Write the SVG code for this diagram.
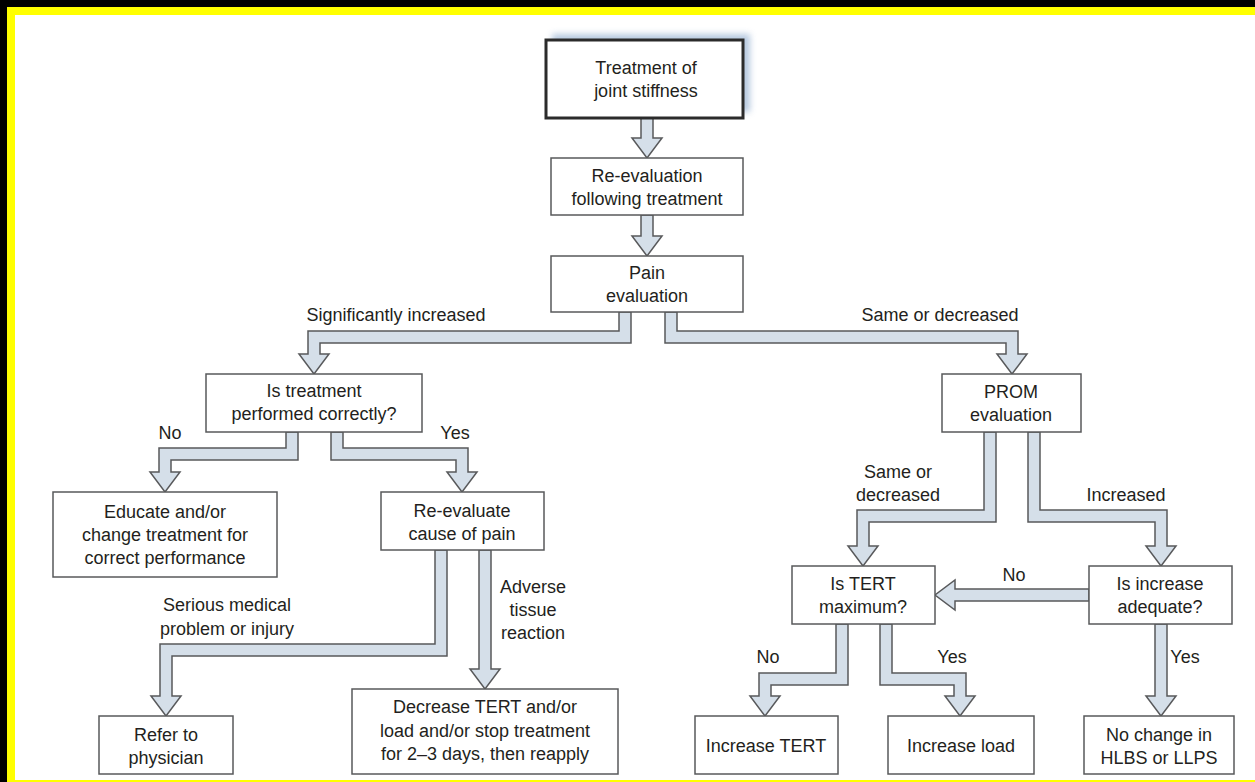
<svg xmlns="http://www.w3.org/2000/svg" width="1255" height="782" viewBox="0 0 1255 782">
<defs>
<filter id="blur" x="-20%" y="-20%" width="140%" height="140%"><feGaussianBlur stdDeviation="3"/></filter>
<style>
.box{fill:#ffffff;stroke:#58595b;stroke-width:1.5}
.main{fill:#ffffff;stroke:#2b2b2b;stroke-width:3}
.arr{fill:#d5dfe9;stroke:#58595b;stroke-width:1.5;stroke-linejoin:miter}
text{font-family:"Liberation Sans",Arial,sans-serif;font-size:18px;fill:#231f20;text-anchor:middle}
</style>
</defs>
<rect x="0" y="0" width="1255" height="782" fill="#000000"/>
<rect x="7" y="7" width="1248" height="775" fill="#ffff00"/>
<rect x="15" y="15" width="1240" height="765" fill="#ffffff"/>

<g id="connectors">
<polygon class="arr" points="641,118 653,118 653,138 662,138 647,158 632,138 641,138"/>
<polygon class="arr" points="641,215 653,215 653,236 662,236 647,256 632,236 641,236"/>
<polygon class="arr" points="631,312 631,343 320,343 320,354 329,354 314,374 299,354 308,354 308,331 619,331 619,312"/>
<polygon class="arr" points="665,312 665,343 1006,343 1006,354 997,354 1012,374 1027,354 1018,354 1018,331 677,331 677,312"/>
<polygon class="arr" points="298,432 298,460 171,460 171,472 180,472 165,492 150,472 159,472 159,448 286,448 286,432"/>
<polygon class="arr" points="331,432 331,460 456,460 456,472 447,472 462,492 477,472 468,472 468,448 343,448 343,432"/>
<polygon class="arr" points="447,550 447,656 172,656 172,696 181,696 166,716 151,696 160,696 160,644 435,644 435,550"/>
<polygon class="arr" points="479,550 491,550 491,669 500,669 485,689 470,669 479,669"/>
<polygon class="arr" points="996,432 996,522 869,522 869,546 878,546 863,566 848,546 857,546 857,510 984,510 984,432"/>
<polygon class="arr" points="1028,432 1028,522 1155,522 1155,546 1146,546 1161,566 1176,546 1167,546 1167,510 1040,510 1040,432"/>
<polygon class="arr" points="1089,589 955,589 955,580 935,595 955,610 955,601 1089,601"/>
<polygon class="arr" points="848,624 848,685 771,685 771,696 780,696 765,716 750,696 759,696 759,673 836,673 836,624"/>
<polygon class="arr" points="880,624 880,685 954,685 954,696 945,696 960,716 975,696 966,696 966,673 892,673 892,624"/>
<polygon class="arr" points="1155,624 1167,624 1167,696 1176,696 1161,716 1146,696 1155,696"/>
<text x="396" y="321">Significantly increased</text>
<text x="940" y="321">Same or decreased</text>
<text x="170" y="439">No</text>
<text x="455" y="439">Yes</text>
<text x="227" y="611">Serious medical</text>
<text x="227" y="635">problem or injury</text>
<text x="533" y="593">Adverse</text>
<text x="533" y="616">tissue</text>
<text x="533" y="639">reaction</text>
<text x="898" y="478">Same or</text>
<text x="898" y="501">decreased</text>
<text x="1126" y="501">Increased</text>
<text x="1014" y="581">No</text>
<text x="768" y="663">No</text>
<text x="952" y="663">Yes</text>
<text x="1185" y="663">Yes</text>
</g>

<g id="n-treatment">
<rect x="552" y="34" width="198" height="78" fill="#9fb8d6" opacity="0.75" filter="url(#blur)"/>
<rect class="main" x="546" y="40" width="197" height="78"/>
<text x="646" y="74">Treatment of</text>
<text x="646" y="97">joint stiffness</text>
</g>
<g id="n-reeval">
<rect class="box" x="551" y="158" width="192" height="57"/>
<text x="647" y="182">Re-evaluation</text>
<text x="647" y="205">following treatment</text>
</g>
<g id="n-pain">
<rect class="box" x="551" y="256" width="192" height="56"/>
<text x="647" y="279">Pain</text>
<text x="647" y="302">evaluation</text>
</g>
<g id="n-correct">
<rect class="box" x="206" y="374" width="216" height="58"/>
<text x="314" y="397">Is treatment</text>
<text x="314" y="420">performed correctly?</text>
</g>
<g id="n-educate">
<rect class="box" x="53" y="492" width="224" height="85"/>
<text x="165" y="518">Educate and/or</text>
<text x="165" y="541">change treatment for</text>
<text x="165" y="564">correct performance</text>
</g>
<g id="n-cause">
<rect class="box" x="381" y="492" width="163" height="58"/>
<text x="462" y="517">Re-evaluate</text>
<text x="462" y="540">cause of pain</text>
</g>
<g id="n-refer">
<rect class="box" x="99" y="716" width="134" height="58"/>
<text x="166" y="741">Refer to</text>
<text x="166" y="764">physician</text>
</g>
<g id="n-decrease">
<rect class="box" x="352" y="689" width="266" height="85"/>
<text x="485" y="713">Decrease TERT and/or</text>
<text x="485" y="737">load and/or stop treatment</text>
<text x="485" y="760">for 2–3 days, then reapply</text>
</g>
<g id="n-prom">
<rect class="box" x="942" y="374" width="139" height="58"/>
<text x="1011" y="398">PROM</text>
<text x="1011" y="421">evaluation</text>
</g>
<g id="n-tertmax">
<rect class="box" x="792" y="566" width="143" height="58"/>
<text x="863" y="590">Is TERT</text>
<text x="863" y="613">maximum?</text>
</g>
<g id="n-adequate">
<rect class="box" x="1089" y="566" width="143" height="58"/>
<text x="1160" y="590">Is increase</text>
<text x="1160" y="613">adequate?</text>
</g>
<g id="n-inctert">
<rect class="box" x="695" y="716" width="143" height="58"/>
<text x="766" y="752">Increase TERT</text>
</g>
<g id="n-incload">
<rect class="box" x="888" y="716" width="146" height="58"/>
<text x="961" y="752">Increase load</text>
</g>
<g id="n-nochange">
<rect class="box" x="1084" y="716" width="150" height="58"/>
<text x="1159" y="741">No change in</text>
<text x="1159" y="764">HLBS or LLPS</text>
</g>
</svg>
